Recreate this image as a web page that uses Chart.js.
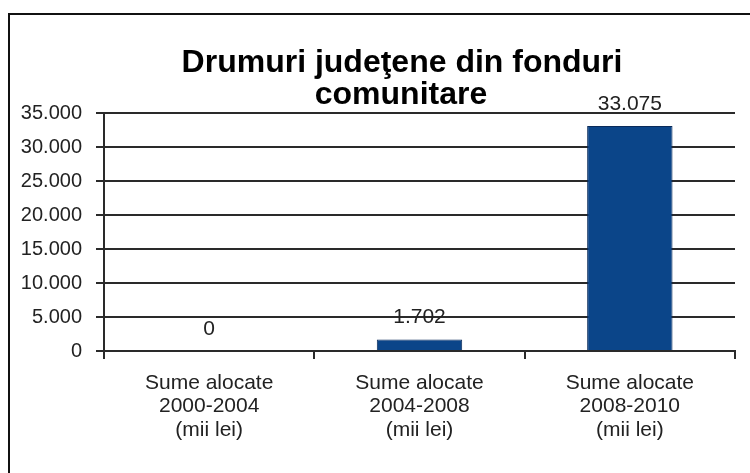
<!DOCTYPE html>
<html lang="ro">
<head>
<meta charset="utf-8">
<script src="https://cdn.jsdelivr.net/npm/chart.js@4.4.1/dist/chart.umd.min.js"></script>
<style>
    html, body { margin: 0; padding: 0; background: #fff; overflow: hidden; }
    #wrap { position: relative; width: 750px; height: 473px; }
    #chenar {
        position: absolute; left: 8px; top: 13px;
        width: 800px; height: 500px;
        border: 2px solid #111; pointer-events: none;
    }
</style>
</head>
<body>
<div id="wrap">
    <canvas id="graficDrumuri"></canvas>
    <div id="chenar"></div>
</div>
<script>
// Date
const titlu = ['Drumuri judeţene din fonduri', 'comunitare'];
const categorii = [
    ['Sume alocate', '2000-2004', '(mii lei)'],
    ['Sume alocate', '2004-2008', '(mii lei)'],
    ['Sume alocate', '2008-2010', '(mii lei)']
];
const sume = [0, 1702, 33075];
const valoriAxaY = [0, 5000, 10000, 15000, 20000, 25000, 30000, 35000];

const FONT = '"Liberation Sans", Arial, sans-serif';
const CULOARE_TEXT = '#222';
const CULOARE_LINII = '#2a2a2a';

// 33075 -> "33.075"
const formatMii = (v) => String(v).replace(/\B(?=(\d{3})+(?!\d))/g, '.');

// titlul pe doua randuri, centrat putin la dreapta fata de mijlocul paginii
const titluGrafic = {
    id: 'titluGrafic',
    afterDraw(chart) {
        const ctx = chart.ctx;
        ctx.save();
        ctx.font = 'bold 32px ' + FONT;
        ctx.fillStyle = '#000';
        ctx.textAlign = 'center';
        ctx.textBaseline = 'alphabetic';
        ctx.fillText(titlu[0], 402, 72);
        ctx.fillText(titlu[1], 401, 104);
        ctx.restore();
    }
};

// valorile scrise deasupra coloanelor
const eticheteValori = {
    id: 'eticheteValori',
    afterDatasetsDraw(chart) {
        const ctx = chart.ctx;
        const meta = chart.getDatasetMeta(0);
        ctx.save();
        ctx.font = '21px ' + FONT;
        ctx.fillStyle = CULOARE_TEXT;
        ctx.textAlign = 'center';
        ctx.textBaseline = 'middle';
        meta.data.forEach((bar, i) => {
            ctx.fillText(formatMii(sume[i]), bar.x, bar.y - 22);
        });
        ctx.restore();
    }
};

const ctx = document.getElementById('graficDrumuri').getContext('2d');

new Chart(ctx, {
    type: 'bar',
    data: {
        labels: categorii,
        datasets: [{
            data: sume,
            backgroundColor: '#0B4589',
            borderColor: '#0A2B5A',
            borderWidth: 1,
            barPercentage: 0.406,
            categoryPercentage: 1
        }]
    },
    options: {
        responsive: true,
        maintainAspectRatio: false,
        animation: false,
        layout: { padding: { left: 0, right: 15, top: 113, bottom: 0 } },
        plugins: {
            legend: { display: false },
            tooltip: { enabled: false },
            title: { display: false }
        },
        scales: {
            x: {
                afterFit: (scale) => { scale.height = 122; },
                grid: {
                    offset: true,
                    drawOnChartArea: false,
                    drawTicks: true,
                    tickLength: 8,
                    color: CULOARE_LINII,
                    lineWidth: 2
                },
                border: { display: true, color: CULOARE_LINII, width: 2 },
                ticks: {
                    color: CULOARE_TEXT,
                    font: { family: FONT, size: 21, lineHeight: 1.12 },
                    padding: 12,
                    maxRotation: 0,
                    autoSkip: false
                }
            },
            y: {
                min: 0,
                max: 35000,
                afterFit: (scale) => { scale.width = 104; },
                afterBuildTicks: (scale) => {
                    scale.ticks = valoriAxaY.map(v => ({ value: v }));
                },
                grid: {
                    color: CULOARE_LINII,
                    lineWidth: 2,
                    drawTicks: true,
                    tickLength: 8
                },
                border: { display: true, color: CULOARE_LINII, width: 2 },
                ticks: {
                    color: CULOARE_TEXT,
                    font: { family: FONT, size: 20 },
                    padding: 14,
                    callback: (value) => formatMii(value)
                }
            }
        }
    },
    plugins: [eticheteValori, titluGrafic]
});
</script>
</body>
</html>
